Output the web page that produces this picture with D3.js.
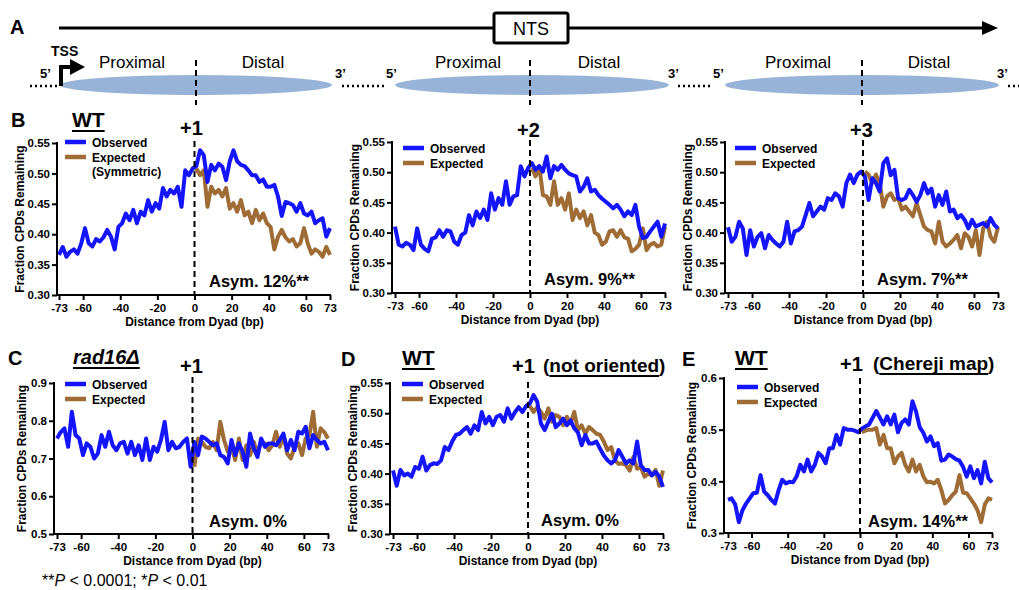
<!DOCTYPE html>
<html>
<head>
<meta charset="utf-8">
<script src="https://cdn.jsdelivr.net/npm/d3@7"></script>
<style>
  body { margin: 0; background: #fff; }
  svg { font-family: "Liberation Sans", Arial, Helvetica, sans-serif; }
</style>
</head>
<body>
<svg id="fig" width="1019" height="590"></svg>
<script>
// ---- data ----
const bp = [-73,-71,-69,-67,-65,-63,-61,-59,-57,-55,-53,-51,-49,-47,-45,-43,-41,-39,-37,-35,-33,-31,-29,-27,-25,-23,-21,-19,-17,-15,-13,-11,-9,-7,-5,-3,-1,
            1,3,5,7,9,11,13,15,17,19,21,23,25,27,29,31,33,35,37,39,41,43,45,47,49,51,53,55,57,59,61,63,65,67,69,71,73];
const bpExpected = [1,3,5,7,9,11,13,15,17,19,21,23,25,27,29,31,33,35,37,39,41,43,45,47,49,51,53,55,57,59,61,63,65,67,69,71,73];
const xTicks = [-73, -60, -40, -20, 0, 20, 40, 60, 73];

// B: WT +1
const wtObs1 = [0.366,0.379,0.363,0.371,0.375,0.368,0.385,0.410,0.385,0.380,0.392,0.388,0.395,0.407,0.396,0.375,0.412,0.418,0.434,0.423,0.440,0.418,0.437,0.431,0.456,0.437,0.451,0.442,0.476,0.462,0.473,0.467,0.478,0.445,0.505,0.497,0.508,
                0.512,0.538,0.530,0.486,0.514,0.505,0.516,0.511,0.489,0.520,0.538,0.520,0.514,0.512,0.505,0.497,0.497,0.486,0.490,0.478,0.478,0.481,0.462,0.430,0.453,0.451,0.448,0.437,0.451,0.434,0.431,0.437,0.418,0.423,0.426,0.396,0.410];
const wtExp1 = [0.508,0.497,0.505,0.445,0.478,0.467,0.473,0.462,0.476,0.442,0.451,0.437,0.456,0.431,0.437,0.418,0.440,0.423,0.434,0.418,0.412,0.375,0.396,0.407,0.395,0.388,0.392,0.380,0.385,0.410,0.385,0.368,0.375,0.371,0.363,0.379,0.366];
// B: WT +2
const wtObs2 = [0.410,0.380,0.377,0.383,0.380,0.371,0.407,0.380,0.373,0.369,0.390,0.392,0.404,0.393,0.404,0.402,0.385,0.380,0.396,0.400,0.429,0.412,0.435,0.424,0.438,0.421,0.465,0.438,0.457,0.446,0.485,0.446,0.460,0.462,0.510,0.493,0.507,
                0.515,0.504,0.510,0.501,0.526,0.490,0.510,0.504,0.512,0.504,0.498,0.495,0.493,0.468,0.476,0.490,0.468,0.471,0.462,0.456,0.451,0.446,0.440,0.446,0.438,0.427,0.435,0.429,0.446,0.410,0.391,0.393,0.402,0.410,0.418,0.393,0.415];
const wtExp2 = [0.507,0.493,0.510,0.462,0.460,0.446,0.485,0.446,0.457,0.438,0.465,0.421,0.438,0.424,0.435,0.412,0.429,0.400,0.396,0.380,0.385,0.402,0.404,0.393,0.404,0.392,0.390,0.369,0.373,0.380,0.407,0.371,0.380,0.383,0.377,0.380,0.410];
// B: WT +3
const wtObs3 = [0.409,0.385,0.393,0.418,0.407,0.363,0.404,0.377,0.393,0.399,0.374,0.396,0.388,0.382,0.377,0.385,0.418,0.382,0.402,0.404,0.410,0.429,0.449,0.427,0.435,0.443,0.438,0.457,0.454,0.465,0.460,0.443,0.482,0.496,0.482,0.496,0.501,
                0.493,0.454,0.490,0.482,0.468,0.515,0.523,0.495,0.504,0.457,0.454,0.457,0.471,0.462,0.451,0.462,0.482,0.465,0.473,0.443,0.462,0.446,0.468,0.435,0.438,0.424,0.429,0.421,0.407,0.421,0.410,0.413,0.416,0.410,0.424,0.413,0.407];
const wtExp3 = [0.501,0.496,0.482,0.496,0.482,0.443,0.460,0.465,0.454,0.457,0.438,0.443,0.435,0.427,0.449,0.429,0.410,0.404,0.402,0.382,0.418,0.385,0.377,0.382,0.388,0.396,0.374,0.399,0.393,0.377,0.404,0.363,0.407,0.418,0.393,0.385,0.409];
// C: rad16 +1
const radObs = [0.753,0.770,0.780,0.731,0.824,0.762,0.753,0.709,0.740,0.731,0.700,0.713,0.762,0.731,0.771,0.735,0.722,0.740,0.744,0.713,0.744,0.709,0.735,0.696,0.753,0.696,0.731,0.718,0.749,0.797,0.722,0.744,0.727,0.731,0.744,0.753,0.678,
                0.744,0.709,0.758,0.753,0.744,0.735,0.740,0.709,0.704,0.687,0.749,0.709,0.740,0.718,0.678,0.766,0.727,0.704,0.753,0.731,0.740,0.740,0.735,0.749,0.766,0.722,0.749,0.722,0.771,0.766,0.784,0.727,0.762,0.749,0.740,0.744,0.722];
const radExp = [0.678,0.753,0.744,0.731,0.727,0.744,0.722,0.797,0.749,0.718,0.731,0.696,0.753,0.696,0.735,0.709,0.744,0.713,0.744,0.740,0.722,0.735,0.771,0.731,0.762,0.713,0.700,0.731,0.740,0.709,0.753,0.762,0.824,0.731,0.780,0.770,0.753];
// D: WT +1 not oriented
const noObs = [0.405,0.380,0.406,0.397,0.400,0.395,0.411,0.408,0.428,0.405,0.414,0.417,0.416,0.422,0.444,0.439,0.453,0.464,0.466,0.472,0.477,0.466,0.480,0.472,0.502,0.483,0.494,0.480,0.494,0.497,0.486,0.508,0.491,0.502,0.510,0.502,0.512,
               0.516,0.530,0.519,0.483,0.472,0.486,0.499,0.477,0.483,0.491,0.480,0.488,0.475,0.468,0.447,0.464,0.450,0.450,0.453,0.441,0.430,0.422,0.417,0.422,0.439,0.428,0.417,0.422,0.417,0.453,0.414,0.406,0.406,0.397,0.403,0.395,0.378];
const noExp = [0.512,0.502,0.510,0.502,0.491,0.508,0.486,0.497,0.494,0.480,0.494,0.483,0.502,0.472,0.480,0.466,0.477,0.472,0.466,0.464,0.453,0.439,0.444,0.422,0.416,0.417,0.414,0.405,0.428,0.408,0.411,0.395,0.400,0.397,0.406,0.380,0.405];
// E: WT +1 Chereji map
const chObs = [0.364,0.367,0.355,0.321,0.344,0.357,0.367,0.377,0.378,0.412,0.380,0.373,0.364,0.357,0.383,0.403,0.396,0.399,0.398,0.410,0.432,0.419,0.442,0.419,0.432,0.455,0.448,0.435,0.464,0.464,0.490,0.471,0.503,0.500,0.500,0.498,0.495,
               0.502,0.506,0.510,0.523,0.536,0.523,0.510,0.526,0.510,0.529,0.495,0.513,0.520,0.510,0.555,0.535,0.505,0.494,0.477,0.487,0.468,0.474,0.440,0.442,0.452,0.448,0.443,0.440,0.428,0.409,0.429,0.406,0.422,0.396,0.438,0.406,0.398];
const chExp = [0.495,0.498,0.500,0.500,0.503,0.471,0.490,0.464,0.464,0.435,0.448,0.455,0.432,0.419,0.442,0.419,0.432,0.410,0.398,0.399,0.396,0.403,0.383,0.357,0.364,0.373,0.380,0.412,0.378,0.377,0.367,0.357,0.344,0.321,0.355,0.367,0.364];

const yTicksB = [0.30, 0.35, 0.40, 0.45, 0.50, 0.55];
const yTicksC = [0.5, 0.6, 0.7, 0.8, 0.9];
const yTicksE = [0.3, 0.4, 0.5, 0.6];

const BLUE = "#1414ff";
const BROWN = "#9e6c34";

const svg = d3.select("#fig");

function txt(x, y, s, size, weight, anchor) {
  return svg.append("text").attr("x", x).attr("y", y)
    .attr("font-size", size).attr("font-weight", weight || "bold")
    .attr("text-anchor", anchor || "start").text(s);
}

// ---- panel A: schematic ----
svg.append("line").attr("x1", 59).attr("x2", 985).attr("y1", 28).attr("y2", 28)
  .attr("stroke", "#000").attr("stroke-width", 3);
svg.append("path").attr("d", "M982,21 L998,28 L982,35 Z").attr("fill", "#000");
svg.append("rect").attr("x", 494).attr("y", 13).attr("width", 74).attr("height", 30).attr("rx", 2)
  .attr("fill", "#fff").attr("stroke", "#000").attr("stroke-width", 3);
txt(531, 35, "NTS", 18, "normal", "middle");
txt(10, 34, "A", 20);

const nucs = [{cx: 196, rx: 136}, {cx: 532, rx: 137}, {cx: 862, rx: 137}];
nucs.forEach(n => {
  svg.append("ellipse").attr("cx", n.cx).attr("cy", 85).attr("rx", n.rx).attr("ry", 10)
    .attr("fill", "#97b4d8");
  txt(n.cx - 64, 68, "Proximal", 17, "normal", "middle");
  txt(n.cx + 67, 68, "Distal", 17, "normal", "middle");
});
[[30, 58], [342, 384], [678, 711], [1008, 1019]].forEach(d => {
  svg.append("line").attr("x1", d[0]).attr("x2", d[1]).attr("y1", 86).attr("y2", 86)
    .attr("stroke", "#000").attr("stroke-width", 2.5).attr("stroke-dasharray", "2,3");
});
[[40, "5\u2019"], [335, "3\u2019"], [386, "5\u2019"], [668, "3\u2019"], [713, "5\u2019"], [997, "3\u2019"]]
  .forEach(d => txt(d[0], 78, d[1], 13));
svg.append("path").attr("d", "M61,86 V67 H72").attr("fill", "none").attr("stroke", "#000").attr("stroke-width", 4);
svg.append("path").attr("d", "M70,59 L85,67 L70,75 Z").attr("fill", "#000");
txt(51, 56, "TSS", 14);
[196, 530, 862].forEach(x => {
  svg.append("line").attr("x1", x).attr("x2", x).attr("y1", 60).attr("y2", 105)
    .attr("stroke", "#000").attr("stroke-width", 2).attr("stroke-dasharray", "6,4");
});

// ---- line panels ----
const panels = [
  {ax: 57, x0: 59, x1: 330, yt: 143, yb: 295, dom: [0.30, 0.55], ticks: yTicksB, fmt: ".2f", obs: wtObs1, exp: wtExp1,
   dashTop: 141, lx: 65, ly: 142, sym: true, asym: "Asym. 12%**", asx: 209, asy: 287},
  {ax: 392, x0: 395, x1: 665, yt: 142, yb: 293, dom: [0.30, 0.55], ticks: yTicksB, fmt: ".2f", obs: wtObs2, exp: wtExp2,
   dashTop: 140, lx: 403, ly: 148, asym: "Asym. 9%**", asx: 544, asy: 285},
  {ax: 725, x0: 728, x1: 998, yt: 142, yb: 293, dom: [0.30, 0.55], ticks: yTicksB, fmt: ".2f", obs: wtObs3, exp: wtExp3,
   dashTop: 140, lx: 735, ly: 148, asym: "Asym. 7%**", asx: 877, asy: 285},
  {ax: 54, x0: 57, x1: 328, yt: 383, yb: 534, dom: [0.5, 0.9], ticks: yTicksC, fmt: ".1f", obs: radObs, exp: radExp,
   dashTop: 377, lx: 65, ly: 384, asym: "Asym. 0%", asx: 209, asy: 527},
  {ax: 390, x0: 393, x1: 663, yt: 383, yb: 534, dom: [0.30, 0.55], ticks: yTicksB, fmt: ".2f", obs: noObs, exp: noExp,
   dashTop: 382, lx: 402, ly: 384, asym: "Asym. 0%", asx: 541, asy: 526},
  {ax: 724, x0: 728, x1: 992, yt: 378, yb: 533, dom: [0.3, 0.6], ticks: yTicksE, fmt: ".1f", obs: chObs, exp: chExp,
   dashTop: 378, lx: 737, ly: 387, asym: "Asym. 14%**", asx: 868, asy: 527}
];

panels.forEach(p => {
  const x = d3.scaleLinear().domain([-73, 73]).range([p.x0, p.x1]);
  const y = d3.scaleLinear().domain(p.dom).range([p.yb, p.yt]);
  const g = svg.append("g");
  const line = d3.line().x(d => x(d[0])).y(d => y(d[1]));

  g.append("path").datum(d3.zip(bpExpected, p.exp)).attr("d", line)
    .attr("fill", "none").attr("stroke", BROWN).attr("stroke-width", 4).attr("stroke-linejoin", "round");
  g.append("path").datum(d3.zip(bp, p.obs)).attr("d", line)
    .attr("fill", "none").attr("stroke", BLUE).attr("stroke-width", 4).attr("stroke-linejoin", "round");

  // axes
  const gy = g.append("g").attr("transform", `translate(${p.ax},0)`)
    .call(d3.axisLeft(y).tickValues(p.ticks).tickFormat(d3.format(p.fmt)).tickSize(5).tickPadding(2).tickSizeOuter(0));
  const gx = g.append("g").attr("transform", `translate(0,${p.yb})`)
    .call(d3.axisBottom(x).tickValues(xTicks).tickFormat(d => String(d)).tickSize(5).tickPadding(4).tickSizeOuter(0));
  [gy, gx].forEach(a => {
    a.select(".domain").remove();
    a.selectAll("line").attr("stroke", "#000").attr("stroke-width", 2);
    a.selectAll("text").attr("font-size", 11.5).attr("font-weight", "bold").attr("fill", "#000")
      .attr("font-family", "'Liberation Sans', Arial, sans-serif");
  });
  g.append("line").attr("x1", p.ax).attr("x2", p.ax).attr("y1", p.yt - 1).attr("y2", p.yb + 1)
    .attr("stroke", "#000").attr("stroke-width", 2);
  g.append("line").attr("x1", p.ax - 1).attr("x2", p.x1 + 1).attr("y1", p.yb).attr("y2", p.yb)
    .attr("stroke", "#000").attr("stroke-width", 2);

  // dashed dyad line
  g.append("line").attr("x1", x(0)).attr("x2", x(0)).attr("y1", p.dashTop).attr("y2", p.yb)
    .attr("stroke", "#000").attr("stroke-width", 2).attr("stroke-dasharray", "6,4");

  // axis titles
  const off = p.fmt === ".2f" ? 37 : 32;
  svg.append("text").attr("transform", `translate(${p.ax - off},${(p.yt + p.yb) / 2}) rotate(-90)`)
    .attr("text-anchor", "middle").attr("font-size", 12).attr("font-weight", "bold").attr("dy", "0.35em")
    .text("Fraction CPDs Remaining");
  txt(x(0), p.yb + 31, "Distance from Dyad (bp)", 12, "bold", "middle");

  // legend
  const leg = [{label: "Observed", color: BLUE}, {label: "Expected", color: BROWN}];
  leg.forEach((l, i) => {
    const yy = p.ly + i * 15;
    svg.append("line").attr("x1", p.lx).attr("x2", p.lx + 21).attr("y1", yy).attr("y2", yy)
      .attr("stroke", l.color).attr("stroke-width", 4.5);
    txt(p.lx + 27, yy + 4.5, l.label, 12);
  });
  if (p.sym) txt(p.lx + 27, p.ly + 34, "(Symmetric)", 12);

  txt(p.asx, p.asy, p.asym, 16.5);
});

// ---- panel titles ----
function underlined(x, y, s, size, italic) {
  const t = txt(x, y, s, size);
  if (italic) t.attr("font-style", "italic");
  const w = t.node().getComputedTextLength();
  svg.append("line").attr("x1", x).attr("x2", x + w).attr("y1", y + 4).attr("y2", y + 4)
    .attr("stroke", "#000").attr("stroke-width", 2);
}
function paren(x, y, s, size) {
  const t = txt(x, y, s, size);
  const n = t.node();
  const x1 = n.getStartPositionOfChar(1).x;
  const w = n.getSubStringLength(1, s.length - 2);
  svg.append("line").attr("x1", x1).attr("x2", x1 + w).attr("y1", y + 4).attr("y2", y + 4)
    .attr("stroke", "#000").attr("stroke-width", 2);
}

txt(11, 127, "B", 20);
underlined(72, 127, "WT", 21);
txt(180, 135, "+1", 20);
txt(517, 137, "+2", 20);
txt(850, 137, "+3", 20);

txt(8, 365, "C", 20);
underlined(73, 364, "rad16\u0394", 20, true);
txt(180, 373, "+1", 20);

txt(341, 366, "D", 20);
underlined(402, 365, "WT", 21);
txt(512, 373, "+1", 20);
paren(543, 372, "(not oriented)", 19);

txt(682, 366, "E", 20);
underlined(735, 365, "WT", 21);
txt(840, 371, "+1", 20);
paren(873, 370, "(Chereji map)", 19);

// footnote
const fn = svg.append("text").attr("x", 42).attr("y", 586).attr("font-size", 16);
fn.append("tspan").text("**");
fn.append("tspan").attr("font-style", "italic").text("P");
fn.append("tspan").text(" < 0.0001; *");
fn.append("tspan").attr("font-style", "italic").text("P");
fn.append("tspan").text(" < 0.01");
</script>
</body>
</html>
